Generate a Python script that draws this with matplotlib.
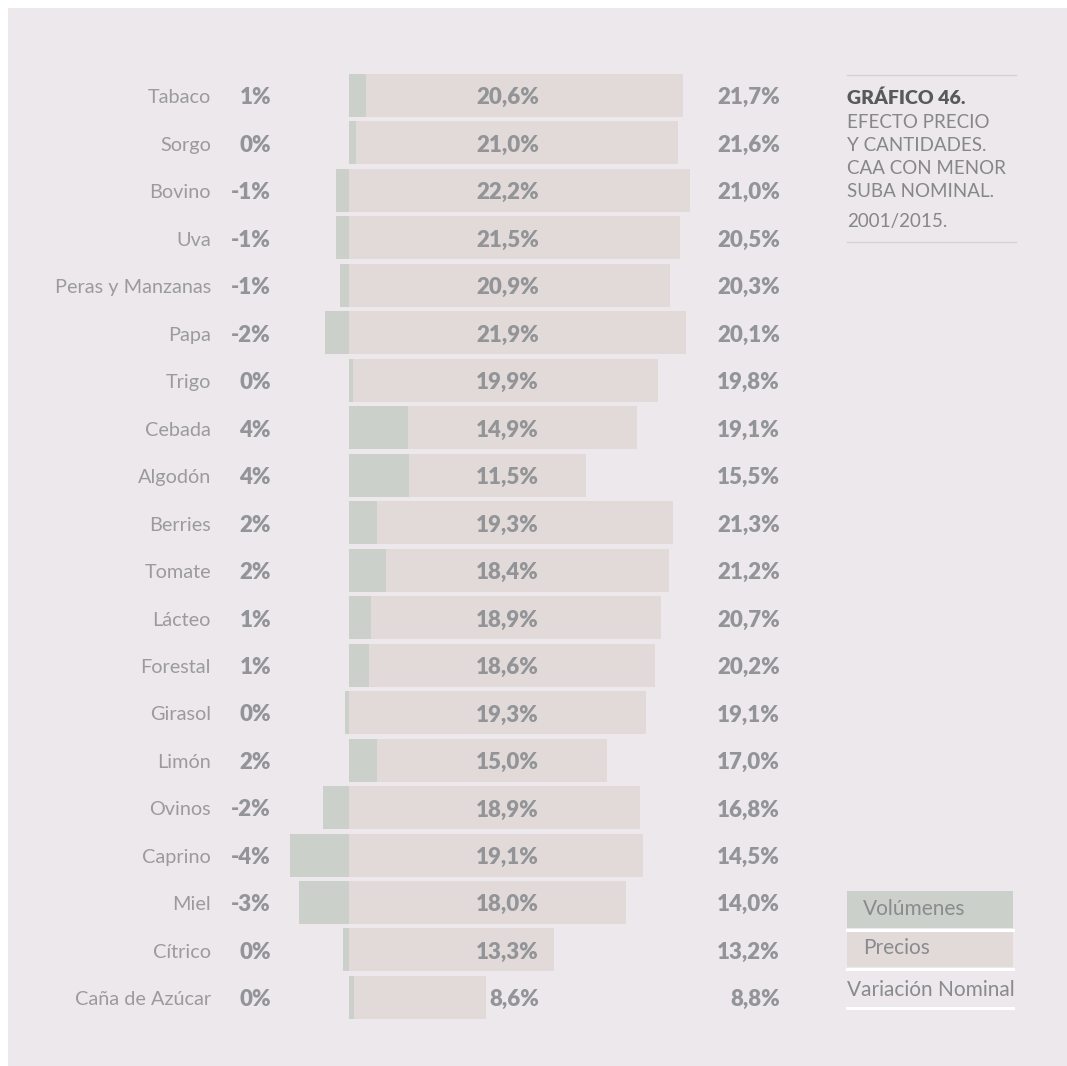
import matplotlib.pyplot as plt
import matplotlib.transforms as mtransforms
from matplotlib.patches import Rectangle
from matplotlib.lines import Line2D

# ---- data ----
cultivos = ["Tabaco", "Sorgo", "Bovino", "Uva", "Peras y Manzanas", "Papa", "Trigo",
            "Cebada", "Algodón", "Berries", "Tomate", "Lácteo", "Forestal", "Girasol",
            "Limón", "Ovinos", "Caprino", "Miel", "Cítrico", "Caña de Azúcar"]
volumenes = [1.1, 0.4, -0.9, -0.9, -0.6, -1.6, 0.2, 3.8, 3.9, 1.8,
             2.4, 1.4, 1.3, -0.3, 1.8, -1.7, -3.9, -3.3, -0.4, 0.3]
precios = [20.6, 21.0, 22.2, 21.5, 20.9, 21.9, 19.9, 14.9, 11.5, 19.3,
           18.4, 18.9, 18.6, 19.3, 15.0, 18.9, 19.1, 18.0, 13.3, 8.6]
nominal = [21.7, 21.6, 21.0, 20.5, 20.3, 20.1, 19.8, 19.1, 15.5, 21.3,
           21.2, 20.7, 20.2, 19.1, 17.0, 16.8, 14.5, 14.0, 13.2, 8.8]

# ---- style ----
FONT = "Lato"
BG = "#ece8eb"
C_VOL = "#cbd0cb"
C_PRE = "#e2dad9"
C_TXT = "#929497"
C_CAT = "#9b9b9d"

W, H = 1067, 1066
px = lambda x: x / W
py = lambda y: 1 - y / H

fig = plt.figure(figsize=(W / 100, H / 100), dpi=100, facecolor="white")
fig.add_artist(Rectangle((px(8), 0), 1 - px(8), py(8), transform=fig.transFigure,
                         facecolor=BG, edgecolor="none", zorder=0))

# bars axis spans the full width; x in percent, zero at 349.5 px, 15.35 px per point
scale = 15.35
x0 = 349.5
n = len(cultivos)
pitch = 47.47
top = 95.5 - pitch / 2
bottom = top + n * pitch
ax = fig.add_axes([0, py(bottom), 1, (bottom - top) / H])
ax.set_xlim(-x0 / scale, (W - x0) / scale)
ax.set_ylim(n - 0.5, -0.5)
ax.axis("off")
ax.patch.set_alpha(0)

rows = list(range(n))
h = 0.905
ax.barh(rows, volumenes, height=h, color=C_VOL, linewidth=0)
pre_left = [max(v, 0) for v in volumenes]
ax.barh(rows, precios, left=pre_left, height=h, color=C_PRE, linewidth=0)

tr = mtransforms.blended_transform_factory(fig.transFigure, ax.transData)
for i in rows:
    y = i + 0.05
    ax.text(px(211), y, cultivos[i], transform=tr, ha="right", va="center",
            fontsize=14.3, color=C_CAT, family=FONT)
    ax.text(px(271), y, f"{int(round(volumenes[i]))}%", transform=tr, ha="right",
            va="center", fontsize=16, fontweight="heavy", color=C_TXT, family=FONT)
    ax.text(px(539), y, f"{precios[i]:.1f}%".replace(".", ","), transform=tr,
            ha="right", va="center", fontsize=16, fontweight="heavy", color=C_TXT,
            family=FONT)
    ax.text(px(780), y, f"{nominal[i]:.1f}%".replace(".", ","), transform=tr,
            ha="right", va="center", fontsize=16, fontweight="heavy", color=C_TXT,
            family=FONT)

# ---- title block ----
for yl in (75, 242):
    fig.add_artist(Line2D([px(847), px(1016)], [py(yl), py(yl)], color="#d6d3d6",
                          linewidth=1, transform=fig.transFigure))
fig.text(px(847), py(98), "GRÁFICO 46.", ha="left", va="center", fontsize=14,
         fontweight="heavy", color="#58595b", family=FONT)
sub = ["EFECTO PRECIO", "Y CANTIDADES.", "CAA CON MENOR", "SUBA NOMINAL."]
for k, s in enumerate(sub):
    fig.text(px(847), py(122 + 23.3 * k), s, ha="left", va="center", fontsize=13.5,
             color="#858789", family=FONT)
fig.text(px(847), py(222), "2001/2015.", ha="left", va="center", fontsize=13.5,
         color="#858789", family=FONT)

# ---- legend ----
lx0, lx1 = 847, 1013
fig.add_artist(Rectangle((px(lx0), py(928)), px(lx1 - lx0), (928 - 891) / H,
                         transform=fig.transFigure, facecolor=C_VOL, edgecolor="none"))
fig.add_artist(Rectangle((px(lx0), py(967)), px(lx1 - lx0), (967 - 931) / H,
                         transform=fig.transFigure, facecolor=C_PRE, edgecolor="none"))
for yl in (929.5, 968.5, 1008):
    fig.add_artist(Line2D([px(lx0), px(lx1)], [py(yl), py(yl)], color="white",
                          linewidth=2.2, transform=fig.transFigure))
fig.text(px(863), py(909), "Volúmenes", ha="left", va="center", fontsize=15,
         color="#898b8e", family=FONT)
fig.text(px(863), py(948), "Precios", ha="left", va="center", fontsize=15,
         color="#898b8e", family=FONT)
fig.text(px(847), py(990), "Variación Nominal", ha="left", va="center", fontsize=15,
         color="#898b8e", family=FONT)

fig.savefig("out.png", dpi=100, facecolor=fig.get_facecolor())
